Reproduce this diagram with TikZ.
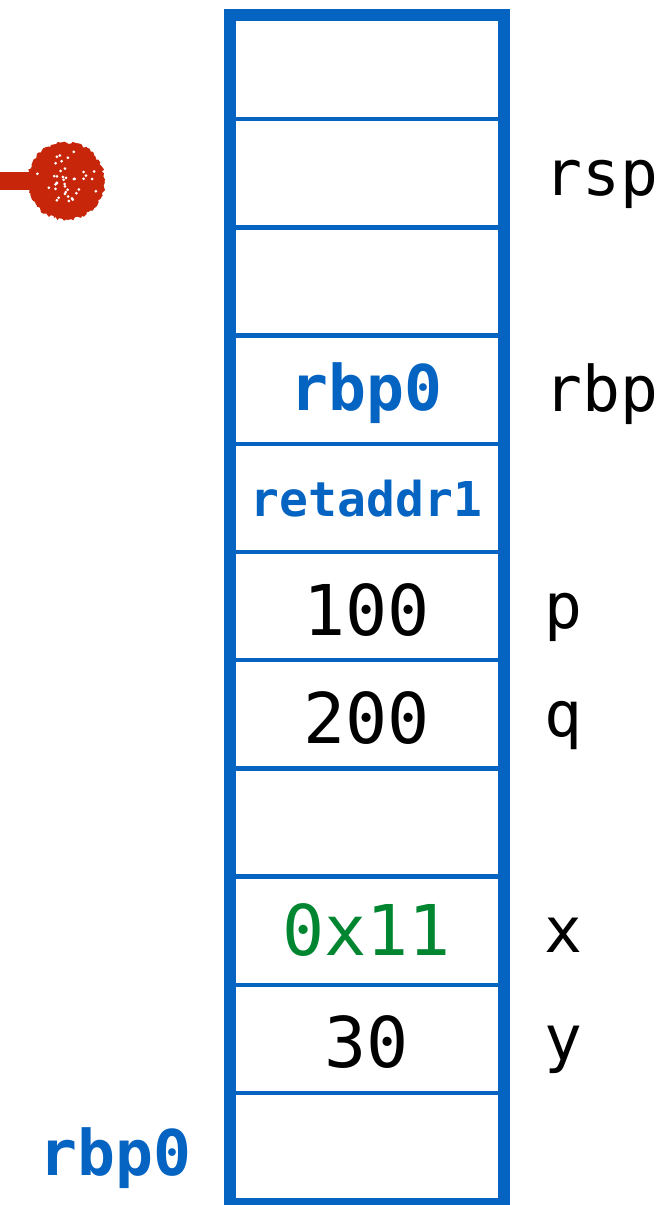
\documentclass[tikz,border=0pt]{standalone}
\usepackage{fontspec}
\setmonofont{DejaVu Sans Mono}
\usetikzlibrary{positioning,decorations.pathmorphing}
\definecolor{stackblue}{RGB}{5,99,193}
\definecolor{valgreen}{RGB}{0,133,48}
\definecolor{ptrred}{RGB}{200,38,10}

\begin{document}
\begin{tikzpicture}[x=1pt,y=-1pt]
       \tikzstyle{cell}=[draw=stackblue, line width=4.5pt, rectangle, minimum width=274pt, minimum height=108.2pt, inner sep=0pt, outer sep=0pt, text height=58pt, text depth=0pt, font=\ttfamily\fontsize{70}{80}\selectfont]
       \tikzstyle{reg}=[cell, text=stackblue, text height=42pt, font=\ttfamily\bfseries\fontsize{63}{72}\selectfont]
       \tikzstyle{varname}=[anchor=base west, inner sep=0pt, font=\ttfamily\fontsize{63}{72}\selectfont]
       \useasboundingbox (0,0) rectangle (666,1205);
       \node[cell] (c1) at (366.5,65.1) {};
       \node[cell, below=0pt of c1] (c2) {};
       \node[cell, below=0pt of c2] (c3) {};
       \node[reg, below=0pt of c3] (c4) {rbp0};
       \node[reg, text height=38pt, font=\ttfamily\bfseries\fontsize{48}{56}\selectfont, below=0pt of c4] (c5) {retaddr1};
       \node[cell, below=0pt of c5] (c6) {100};
       \node[cell, below=0pt of c6] (c7) {200};
       \node[cell, below=0pt of c7] (c8) {};
       \node[cell, text=valgreen, text height=50pt, below=0pt of c8] (c9) {0x11};
       \node[cell, below=0pt of c9] (c10) {30};
       \node[cell, below=0pt of c10] (c11) {};
       \draw[stackblue, line width=12pt] (229.5,15) rectangle (503.5,1204);
       \foreach \c/\name in {c2/rsp, c4/rbp, c6/p, c7/q, c9/x, c10/y}
        \node[varname] (n\name) at ([xshift=40.5pt, yshift=-22pt]\c.east) {\name};
       \node[varname, anchor=base east, text=stackblue, font=\ttfamily\bfseries\fontsize{63}{72}\selectfont] (base) at ([xshift=-38pt, yshift=-28.5pt]c11.west) {rbp0};
       \pgfmathsetseed{7}
       \coordinate (dot) at (66,181);
       \fill[ptrred] (-5,172) rectangle (45,190);
       \fill[ptrred, decorate, decoration={random steps, segment length=2pt, amplitude=1.5pt}] (dot) circle (38.5);
       \foreach \k in {1,...,40}
        \fill[white] ([shift={({rnd*360}:{rnd*33})}]dot) circle (1.5);
      \end{tikzpicture}
\end{document}
